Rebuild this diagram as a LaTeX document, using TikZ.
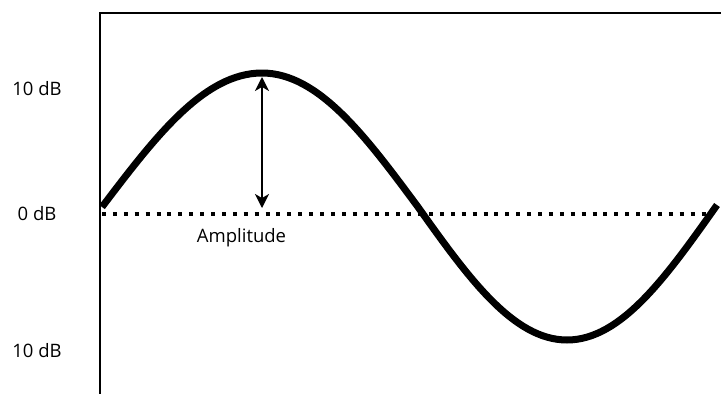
\documentclass[tikz,border=0pt]{standalone}
\usepackage{fontspec}
\setmainfont{Open Sans}
\usetikzlibrary{arrows.meta}

\tikzset{
  dblabel/.style={font=\fontsize{18.5}{20}\selectfont, anchor=base},
  wave/.style={line width=7pt},
  zeroline/.style={line width=4pt, dash pattern=on 4pt off 6.9pt},
  ampline/.style={line width=1.6pt, {Stealth[length=14pt,width=14pt,inset=4pt]}-{Stealth[length=14pt,width=14pt,inset=4pt]}}
}

\begin{document}
\begin{tikzpicture}[x=1pt,y=-1pt]

\useasboundingbox (0,0) rectangle (721,394);

% ===== Khung =====
\coordinate (axbot) at (99.5,394);
\coordinate (axtop) at (99.5,13);
\coordinate (axright) at (721,13);
\draw[line width=2pt] (axbot) -- (axtop) -- (axright);

% ===== Duong 0 dB =====
\coordinate (zl) at (102,214);
\coordinate (zr) at (712,214);
\draw[zeroline] (zl) -- (zr);

% ===== Song sin =====
\coordinate (start) at (102,207);
\coordinate (peak) at (262,73);
\coordinate (cross) at (418,207);
\coordinate (trough) at (567,340);
\coordinate (stop) at (717,205);
\draw[wave] (start) .. controls (155.3,136.8) and (204,73) .. (peak)
  .. controls (318.6,73) and (366,136.8) .. (cross)
  .. controls (467.6,276.6) and (512.9,340) .. (trough)
  .. controls (621.5,340) and (667,275.7) .. (stop);

% ===== Bien do =====
\coordinate (amptop) at (262,77);
\coordinate (ampbot) at (262,208);
\draw[ampline] (ampbot) -- (amptop);

% ===== Nhan =====
\node[dblabel] (hi) at (37,95) {10 dB};
\node[dblabel] (mid) at (37,220) {0 dB};
\node[dblabel] (lo) at (37,357) {10 dB};
\node[dblabel] (amp) at (241.5,242.5) {Amplitude};

\end{tikzpicture}
\end{document}
